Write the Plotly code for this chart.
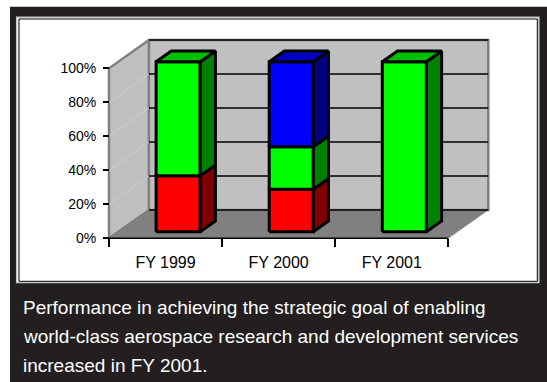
import plotly.graph_objects as go

# ---- data -------------------------------------------------------------
categories = ["FY 1999", "FY 2000", "FY 2001"]
red_share = [33, 25, 0]
green_share = [67, 25, 100]
blue_share = [0, 50, 0]
y_ticks = [0, 20, 40, 60, 80, 100]
y_tick_labels = ["0%", "20%", "40%", "60%", "80%", "100%"]
caption_lines = [
    "Performance in achieving the strategic goal of enabling",
    "world-class aerospace research and development services",
    "increased in FY 2001.",
]

# ---- styling / geometry ---------------------------------------------
W, H = 547, 382
FONT = "Liberation Sans, Arial, sans-serif"
DARK = "#231F20"
SERIES = [
    (red_share, "#FF0000", "#800000", "#C00000"),
    (green_share, "#00FF00", "#008000", "#00C000"),
    (blue_share, "#0000FF", "#000080", "#0000C0"),
]

# pixel placement of the plot frame (front plane)
X0_PX, CAT_PX = 109.0, 113.1      # left edge of first category, px per category
Y0_PX, PCT_PX = 238.3, 1.70       # 0 % baseline, px per percent
X_RANGE = [-X0_PX / CAT_PX, (W - X0_PX) / CAT_PX]
Y_RANGE = [-(H - Y0_PX) / PCT_PX, Y0_PX / PCT_PX]

# oblique depth projection (depth 0 = front, 1 = back wall)
DEPTH_X = 40.0 / CAT_PX
DEPTH_Y = 28.4 / PCT_PX
BAR_D0, BAR_D1 = 0.23, 0.61
BAR_W = 0.39
BAR_SHIFT = 0.03
N = len(categories)


def proj(x, y, d):
    return x + d * DEPTH_X, y + d * DEPTH_Y


def poly(points):
    xs, ys = [], []
    for p in points + [points[0]]:
        px, py = proj(*p)
        xs.append(px)
        ys.append(py)
    return xs, ys


def px_x(p):
    return p / W


def px_y(p):
    return 1 - p / H


fig = go.Figure()


def add_face(points, fill, line_color, line_width):
    xs, ys = poly(points)
    fig.add_trace(go.Scatter(
        x=xs, y=ys, mode="lines", fill="toself", fillcolor=fill,
        line=dict(color=line_color, width=line_width),
        hoverinfo="skip", showlegend=False))


def add_lines(segments, color, width):
    xs, ys = [], []
    for a, b in segments:
        ax, ay = proj(*a)
        bx, by = proj(*b)
        xs += [ax, bx, None]
        ys += [ay, by, None]
    fig.add_trace(go.Scatter(
        x=xs, y=ys, mode="lines", line=dict(color=color, width=width),
        hoverinfo="skip", showlegend=False))


top = max(y_ticks)

# floor
add_face([(0, 0, 0), (N, 0, 0), (N, 0, 1), (0, 0, 1)], "#808080", "#808080", 0.5)
# left wall
add_face([(0, 0, 0), (0, top, 0), (0, top, 1), (0, 0, 1)], "#C0C0C0", "#808080", 2.5)
# back wall
add_face([(0, 0, 1), (N, 0, 1), (N, top, 1), (0, top, 1)], "#C0C0C0", "#808080", 2.5)

# faint gridlines on the side wall, black ones on the back wall
add_lines([((0, v, 0), (0, v, 1)) for v in y_ticks[1:-1]], "#CDCDCD", 1)
add_lines([((0, v, 1), (N, v, 1)) for v in y_ticks], "#000000", 1.5)

# category (x) axis line along the front edge of the floor
add_lines([((0, 0, 0), (N, 0, 0))], "#000000", 1.5)

# stacked 3-D bars
for i in range(N):
    c = i + 0.5 + BAR_SHIFT
    xl, xr = c - BAR_W / 2, c + BAR_W / 2
    base = 0
    last = None
    for values, front, side, topc in SERIES:
        v = values[i]
        if v <= 0:
            continue
        b, t = base, base + v
        add_face([(xl, b, BAR_D0), (xr, b, BAR_D0), (xr, t, BAR_D0), (xl, t, BAR_D0)],
                 front, "#000000", 3)
        add_face([(xr, b, BAR_D0), (xr, b, BAR_D1), (xr, t, BAR_D1), (xr, t, BAR_D0)],
                 side, "#000000", 3)
        base = t
        last = topc
    if last is not None:
        add_face([(xl, base, BAR_D0), (xr, base, BAR_D0), (xr, base, BAR_D1), (xl, base, BAR_D1)],
                 last, "#000000", 3)

# invisible point on the overlay axis so its boundary ticks are drawn
fig.add_trace(go.Scatter(x=[0], y=[0], xaxis="x2", mode="markers",
                         marker=dict(opacity=0), hoverinfo="skip", showlegend=False))

# ---- frame and caption ----------------------------------------------
shapes = [
    dict(type="rect", xref="paper", yref="paper", layer="below",
         x0=px_x(10), x1=px_x(W), y0=px_y(H), y1=px_y(6.7),
         fillcolor=DARK, line=dict(width=0)),
    dict(type="rect", xref="paper", yref="paper", layer="below",
         x0=px_x(16.7), x1=px_x(538.8), y0=px_y(282.5), y1=px_y(17.3),
         fillcolor="#FFFFFF", line=dict(color="#C8C8C8", width=1.5)),
    dict(type="rect", xref="paper", yref="paper", layer="below",
         x0=px_x(19), x1=px_x(537.3), y0=px_y(281.3), y1=px_y(19),
         fillcolor="#FFFFFF", line=dict(color="#000000", width=1)),
]

annotations = []
for k, line in enumerate(caption_lines):
    annotations.append(dict(
        text=line, xref="paper", yref="paper", x=px_x(20.5), y=px_y(307.5 + 29 * k),
        xanchor="left", yanchor="middle", showarrow=False,
        font=dict(family=FONT, size=19, color="#FFFFFF")))

axis_pos_x = px_x(X0_PX)
axis_pos_y = px_y(Y0_PX)

fig.update_layout(
    width=W, height=H,
    margin=dict(l=0, r=0, t=0, b=0),
    paper_bgcolor="#FFFFFF",
    plot_bgcolor="rgba(0,0,0,0)",
    showlegend=False,
    shapes=shapes,
    annotations=annotations,
    xaxis=dict(
        range=X_RANGE, domain=[0, 1], anchor="free", position=axis_pos_y,
        tickmode="array", tickvals=[i + 0.5 for i in range(N)], ticktext=categories,
        ticks="", showgrid=False, zeroline=False, showline=False,
        ticklabelstandoff=13,
        tickfont=dict(family=FONT, size=16, color="#000000"), fixedrange=True),
    xaxis2=dict(
        range=X_RANGE, domain=[0, 1], anchor="free", position=axis_pos_y,
        overlaying="x", tickmode="array", tickvals=list(range(N + 1)),
        ticks="outside", ticklen=8, tickwidth=1.5, tickcolor="#000000",
        showticklabels=False, showgrid=False, zeroline=False, showline=False,
        fixedrange=True),
    yaxis=dict(
        range=Y_RANGE, domain=[0, 1], anchor="free", position=axis_pos_x,
        tickmode="array", tickvals=y_ticks, ticktext=y_tick_labels,
        ticks="outside", ticklen=6, tickwidth=1.5, tickcolor="#000000",
        showgrid=False, zeroline=False, showline=False,
        ticklabelstandoff=4,
        tickfont=dict(family=FONT, size=14, color="#000000"), fixedrange=True),
)

fig.write_html("out.html", config={"displayModeBar": False})
